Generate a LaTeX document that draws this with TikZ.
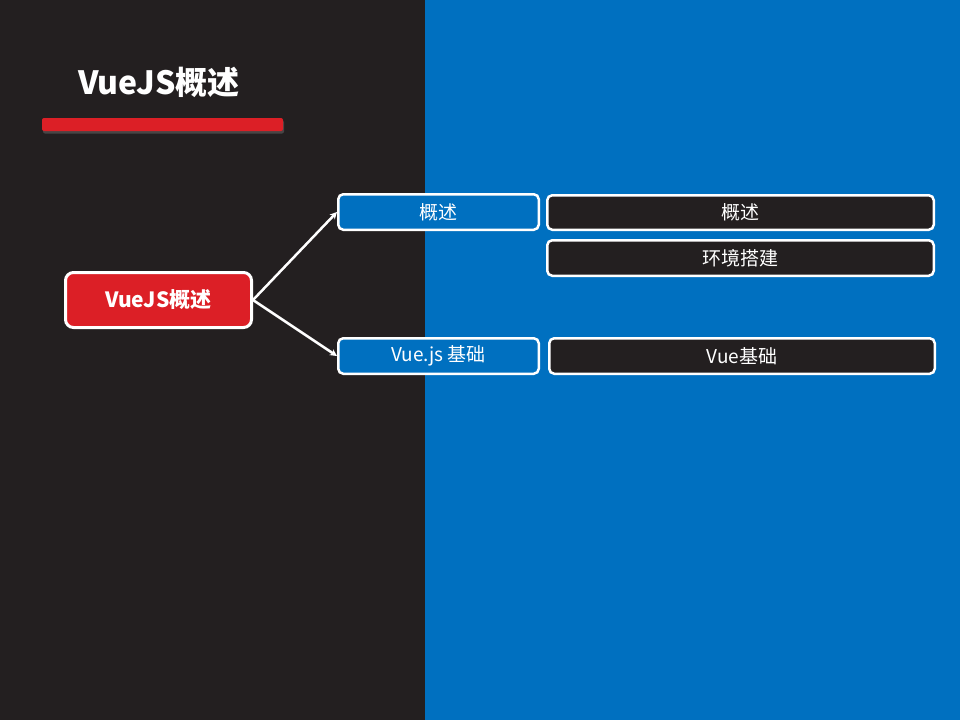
\documentclass[tikz,border=0pt]{standalone}
\usepackage{fontspec}
\setmainfont{Noto Sans CJK SC}
\usetikzlibrary{arrows.meta,shadows}
\definecolor{darkbg}{HTML}{231F20}
\definecolor{bluebg}{HTML}{0070C0}
\definecolor{redc}{HTML}{DC1F26}
\tikzset{
  box/.style={draw=white, line width=2.5pt, rounded corners=5pt, text=white, inner sep=0pt, anchor=north west, font=\fontsize{19}{22}\selectfont},
  bluebox/.style={box, fill=bluebg},
  darkbox/.style={box, fill=darkbg},
  conn/.style={draw=white, line width=2.5pt, -{Stealth[length=7pt,width=7pt]}},
}
\begin{document}
\begin{tikzpicture}[x=1pt,y=-1pt]
\fill[darkbg] (0,0) rectangle (425,720);
\fill[bluebg] (425,0) rectangle (960,720);
\useasboundingbox (0,0) rectangle (960,720);
\node[text=white, font=\fontsize{32}{38}\selectfont\bfseries] (title) at (159,82) {VueJS概述};
\fill[redc, rounded corners=2pt, drop shadow={opacity=0.4, shadow xshift=1pt, shadow yshift=-2.5pt}] (42,118) rectangle (283,131);
\node[box, fill=redc, line width=3pt, rounded corners=8pt, minimum width=186pt, minimum height=55pt, font=\fontsize{21}{24}\selectfont\bfseries] (main) at (64,271) {VueJS概述};
\node[bluebox, minimum width=200.5pt, minimum height=35.5pt] (b1) at (337,193) {概述};
\node[bluebox, minimum width=200.5pt, minimum height=35.5pt] (b2) at (337,337) {Vue.js 基础};
\node[darkbox, minimum width=386.5pt, minimum height=34.5pt] (d1) at (546,194) {概述};
\node[darkbox, minimum width=386.5pt, minimum height=35.5pt] (d2) at (546,239) {环境搭建};
\node[darkbox, minimum width=385.5pt, minimum height=35.5pt] (d3) at (548,337) {Vue基础};
\draw[conn] (main.east) -- (b1.west);
\draw[conn] (main.east) -- (b2.west);
\end{tikzpicture}
\end{document}
